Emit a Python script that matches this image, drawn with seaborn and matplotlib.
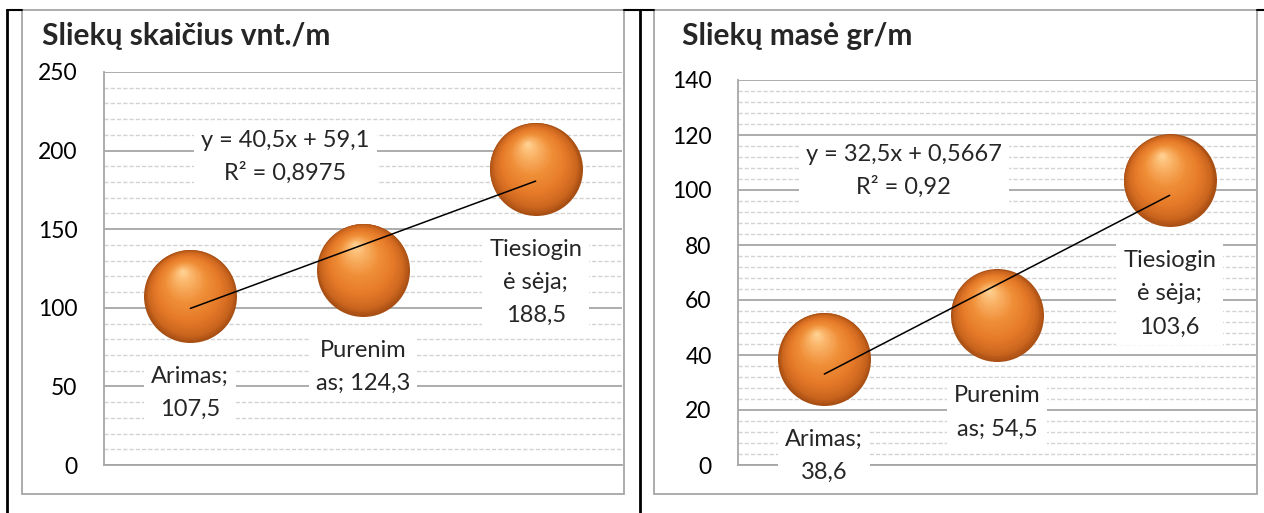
import numpy as np
import pandas as pd
import matplotlib
matplotlib.use("Agg")
import matplotlib.pyplot as plt
import matplotlib.transforms as mtransforms
from matplotlib.colors import LinearSegmentedColormap
from matplotlib.lines import Line2D
from matplotlib.patches import Rectangle
from matplotlib.ticker import MultipleLocator
import seaborn as sns

# ---- data -------------------------------------------------------------
x_pos = [1, 2, 3]
categories = ["Arimas", "Purenimas", "Tiesioginė sėja"]
label_templates = ["Arimas;\n{}", "Purenim\nas; {}", "Tiesiogin\nė sėja;\n{}"]
count_values = [107.5, 124.3, 188.5]
mass_values = [38.6, 54.5, 103.6]

titles = ["Sliekų skaičius vnt./m", "Sliekų masė gr/m"]
y_max = [250, 140]
y_major = [50, 20]
y_minor = [10, 4]

# ---- style ------------------------------------------------------------
sns.set_style("white")
plt.rcParams["font.family"] = ["Lato", "DejaVu Sans"]

W, H, DPI = 1264, 513, 100
fig = plt.figure(figsize=(W / DPI, H / DPI), dpi=DPI)


def fx(px):
    return px / W


def fy(py):
    return 1 - py / H


def dec(v, nd=4):
    s = f"{round(v, nd):.{nd}f}".rstrip("0").rstrip(".")
    return s.replace(".", ",")


sphere_cmap = LinearSegmentedColormap.from_list(
    "sphere",
    [
        (0.00, (1.00, 0.84, 0.60)),
        (0.20, (0.98, 0.70, 0.40)),
        (0.45, (0.94, 0.56, 0.22)),
        (0.70, (0.90, 0.48, 0.16)),
        (0.90, (0.80, 0.40, 0.12)),
        (1.00, (0.66, 0.31, 0.08)),
    ],
)

RADIUS_PT = 46.5 * 72 / DPI


def draw_spheres(ax, xs, ys):
    base = pd.DataFrame({"x": xs, "y": ys})
    sns.scatterplot(data=base, x="x", y="y", ax=ax, s=(2 * RADIUS_PT) ** 2,
                    color=sphere_cmap(1.0), linewidth=0, zorder=3, legend=False)
    n = 45
    hx, hy = -0.18, 0.55
    for i in range(1, n):
        t = 1 - i / n
        r = RADIUS_PT * t
        tr = mtransforms.offset_copy(ax.transData, fig=fig,
                                     x=hx * RADIUS_PT * (1 - t),
                                     y=hy * RADIUS_PT * (1 - t), units="points")
        ax.scatter(xs, ys, s=(2 * r) ** 2, color=sphere_cmap(t),
                   linewidths=0, transform=tr, zorder=3)


panels = [
    dict(values=count_values, box=(22, 10, 624, 494), plot=(104, 72, 622, 465),
         title_xy=(42, 45), eq_xy=(1.55, 196)),
    dict(values=mass_values, box=(654, 10, 1257, 494), plot=(738, 80, 1256, 465),
         title_xy=(682, 45), eq_xy=(1.46, 107)),
]

for k, p in enumerate(panels):
    bx0, by0, bx1, by1 = p["box"]
    fig.add_artist(Rectangle((fx(bx0), fy(by1)), fx(bx1 - bx0), (by1 - by0) / H,
                             transform=fig.transFigure, fill=False,
                             ec="#a6a6a6", lw=1.3, zorder=0))
    x0, y0, x1, y1 = p["plot"]
    ax = fig.add_axes([fx(x0), fy(y1), fx(x1 - x0), (y1 - y0) / H])
    ax.set_xlim(0.5, 3.5)
    ax.set_ylim(0, y_max[k])
    ax.yaxis.set_major_locator(MultipleLocator(y_major[k]))
    ax.yaxis.set_minor_locator(MultipleLocator(y_minor[k]))
    ax.set_axisbelow(True)
    ax.grid(which="major", axis="y", color="#a6a6a6", lw=1.3)
    ax.grid(which="minor", axis="y", color="#d3d3d3", lw=1.0, ls=(0, (3, 1.5)))
    for side in ["top", "right"]:
        ax.spines[side].set_visible(False)
    for side in ["left", "bottom"]:
        ax.spines[side].set_color("#a6a6a6")
        ax.spines[side].set_linewidth(1.3)

    vals = p["values"]
    draw_spheres(ax, x_pos, vals)

    # linear trend
    coef = np.polyfit(x_pos, vals, 1)
    fit = np.polyval(coef, x_pos)
    r2 = 1 - np.sum((np.array(vals) - fit) ** 2) / np.sum((np.array(vals) - np.mean(vals)) ** 2)
    sns.lineplot(x=x_pos, y=fit, ax=ax, color="black", lw=1.1, zorder=4)
    eq = f"y = {dec(coef[0])}x + {dec(coef[1])}\nR² = {dec(r2)}"
    ax.text(p["eq_xy"][0], p["eq_xy"][1], eq, ha="center", va="center",
            fontsize=17, linespacing=1.6, zorder=5,
            bbox=dict(boxstyle="square,pad=0.3", fc="white", ec="none"))

    # data labels under each bubble
    for xv, v, tmpl in zip(x_pos, vals, label_templates):
        ax.annotate(tmpl.format(dec(v, 1)), xy=(xv, v), xytext=(0, -70),
                    textcoords="offset pixels", ha="center", va="top",
                    fontsize=17, linespacing=1.72, zorder=5,
                    bbox=dict(boxstyle="square,pad=0.3", fc="white", ec="none"))

    ax.set_xticks([])
    ax.set_xlabel("")
    ax.set_ylabel("")
    ax.tick_params(axis="y", which="major", length=6, width=1.3, color="#a6a6a6",
                   labelsize=16.5, pad=13, labelcolor="black")
    ax.tick_params(axis="y", which="minor", length=0)

    fig.text(fx(p["title_xy"][0]), fy(p["title_xy"][1]), titles[k],
             fontsize=21.5, fontweight="bold", ha="left", va="baseline")

# table rules around the two panels
black = dict(color="black", lw=2.0, transform=fig.transFigure, zorder=10)
fig.add_artist(Line2D([fx(7), fx(7)], [fy(10), 0], **black))
fig.add_artist(Line2D([fx(640), fx(640)], [fy(10), 0], **black))
thin = dict(color="black", lw=1.5, transform=fig.transFigure, zorder=10)
fig.add_artist(Line2D([fx(7), fx(22)], [fy(10), fy(10)], **thin))
fig.add_artist(Line2D([fx(624), fx(654)], [fy(10), fy(10)], **thin))
fig.add_artist(Line2D([fx(1257), 1], [fy(10), fy(10)], **thin))

fig.savefig("out.png", dpi=DPI, facecolor="white")
